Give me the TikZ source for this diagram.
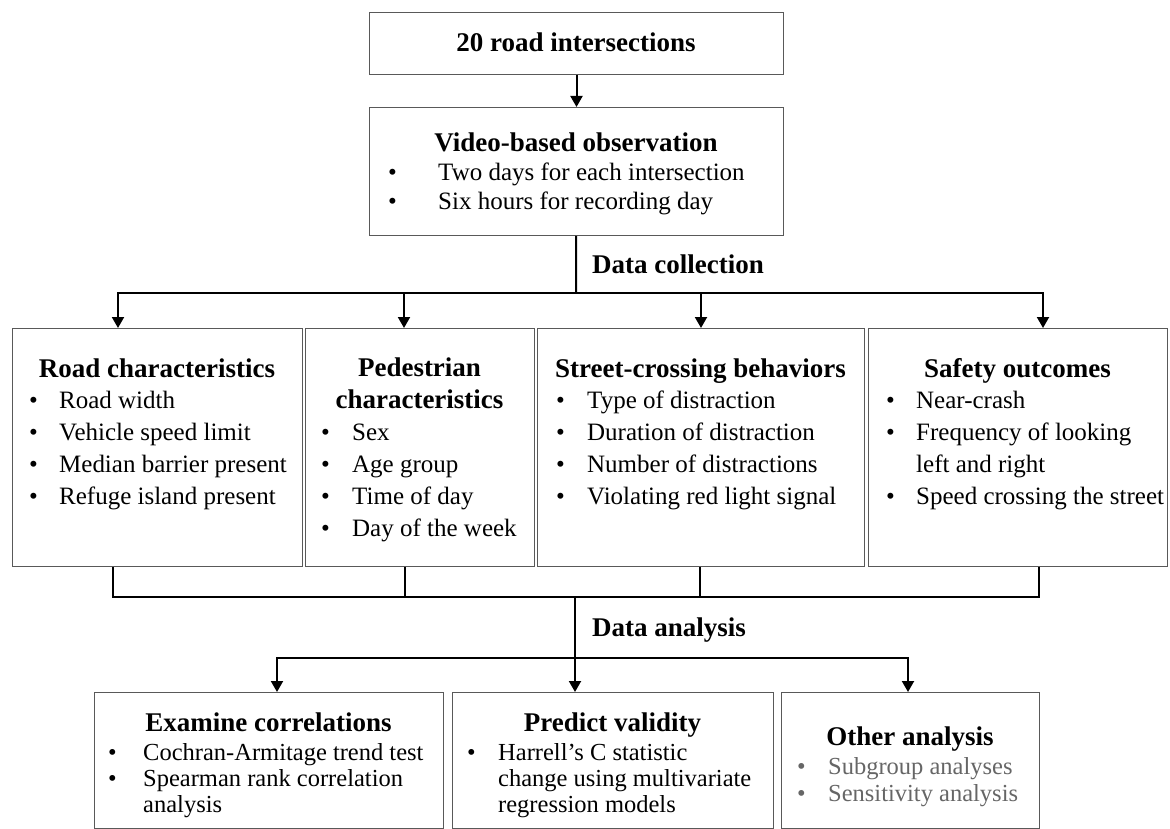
\documentclass[tikz,border=0pt]{standalone}
\usepackage{fontspec}
\setmainfont{Liberation Serif}
\usetikzlibrary{arrows.meta}
\newcommand{\itemlist}[2]{\begin{tabular}[t]{@{}p{#1}@{}l@{}}#2\end{tabular}}
\tikzset{
    box/.style={draw=black!65, line width=1pt, inner sep=0pt, anchor=north west},
    ttl/.style={font=\fontsize{27}{32}\selectfont\bfseries, inner sep=0pt, anchor=base},
    lst/.style={font=\fontsize{25}{32}\selectfont, inner sep=0pt, anchor=base west},
    sml/.style={font=\fontsize{24.5}{26}\selectfont, inner sep=0pt, anchor=base west},
    link/.style={line width=2pt},
    arr/.style={link, -{Triangle[length=11pt,width=12pt]}},
}
\begin{document}
\begin{tikzpicture}[x=1pt, y=-1pt]
    \useasboundingbox (0,0) rectangle (1170,829);

    \node[box, minimum width=414pt, minimum height=62pt] (top) at (369,12) {};
    \node[box, minimum width=414pt, minimum height=128pt] (video) at (369,107) {};
    \node[box, minimum width=290pt, minimum height=238pt] (road) at (12,328) {};
    \node[box, minimum width=229pt, minimum height=238pt] (ped) at (305,328) {};
    \node[box, minimum width=327pt, minimum height=238pt] (street) at (537,328) {};
    \node[box, minimum width=299pt, minimum height=238pt] (safety) at (868,328) {};
    \node[box, minimum width=349pt, minimum height=136pt] (corr) at (94,692) {};
    \node[box, minimum width=321pt, minimum height=136pt] (pred) at (452,692) {};
    \node[box, minimum width=258pt, minimum height=136pt] (other) at (781,692) {};

    \node[ttl] (toptxt) at (576,52) {20 road intersections};
    \node[ttl] (videottl) at (576,152) {Video-based observation};
    \node[lst, font=\fontsize{25}{29}\selectfont] (videolst) at (388,181)
        {\itemlist{50pt}{\textbullet & Two days for each intersection\\
                         \textbullet & Six hours for recording day}};

    \node[ttl] (roadttl) at (157,377) {Road characteristics};
    \node[lst] (roadlst) at (29,408)
        {\itemlist{30pt}{\textbullet & Road width\\
                         \textbullet & Vehicle speed limit\\
                         \textbullet & Median barrier present\\
                         \textbullet & Refuge island present}};

    \node[ttl, anchor=center, align=center] (pedttl) at (419.5,383) {Pedestrian\\characteristics};
    \node[lst] (pedlst) at (321,440)
        {\itemlist{31pt}{\textbullet & Sex\\
                         \textbullet & Age group\\
                         \textbullet & Time of day\\
                         \textbullet & Day of the week}};

    \node[ttl] (streetttl) at (700.5,377) {Street-crossing behaviors};
    \node[lst] (streetlst) at (556,408)
        {\itemlist{31pt}{\textbullet & Type of distraction\\
                         \textbullet & Duration of distraction\\
                         \textbullet & Number of distractions\\
                         \textbullet & Violating red light signal}};

    \node[ttl] (safetyttl) at (1017.5,377) {Safety outcomes};
    \node[lst] (safetylst) at (886,408)
        {\itemlist{30pt}{\textbullet & Near-crash\\
                         \textbullet & Frequency of looking\\
                                     & left and right\\
                         \textbullet & Speed crossing the street}};

    \node[ttl] (corrttl) at (268.5,731) {Examine correlations};
    \node[sml] (corrlst) at (108,760)
        {\itemlist{35pt}{\textbullet & Cochran-Armitage trend test\\
                         \textbullet & Spearman rank correlation\\
                                     & analysis}};

    \node[ttl] (predttl) at (612.5,731) {Predict validity};
    \node[sml] (predlst) at (467,760)
        {\itemlist{31pt}{\textbullet & Harrell's C statistic\\
                                     & change using multivariate\\
                                     & regression models}};

    \node[ttl] (otherttl) at (910,745) {Other analysis};
    \node[sml, font=\fontsize{24.5}{27}\selectfont, text=black!60] (otherlst) at (797,774)
        {\itemlist{31pt}{\textbullet & Subgroup analyses\\
                         \textbullet & Sensitivity analysis}};

    \node[inner sep=0pt, anchor=base west, font=\fontsize{27}{32}\selectfont\bfseries] (collect) at (592,273) {Data collection};
    \node[inner sep=0pt, anchor=base west, font=\fontsize{27}{32}\selectfont\bfseries] (analyse) at (592,636) {Data analysis};

    \coordinate (split) at (576,293);
    \coordinate (a1) at (118,293);
    \coordinate (a2) at (404,293);
    \coordinate (a3) at (701,293);
    \coordinate (a4) at (1043,293);
    \coordinate (b1) at (113,597);
    \coordinate (b2) at (405,597);
    \coordinate (b3) at (700,597);
    \coordinate (b4) at (1039,597);
    \coordinate (join) at (575,597);
    \coordinate (c1) at (277,658);
    \coordinate (c3) at (908,658);

    \draw[arr] (top) -- (video);
    \draw[link] (video) -- (split);
    \draw[arr] (a4) -- (a1) -- (a1 |- road.north);
    \draw[arr] (a1) -- (a4) -- (a4 |- safety.north);
    \draw[arr] (a2) -- (a2 |- ped.north);
    \draw[arr] (a3) -- (a3 |- street.north);

    \draw[link] (b1 |- road.south) -- (b1) -- (b4) -- (b4 |- safety.south);
    \draw[link] (b2 |- ped.south) -- (b2);
    \draw[link] (b3 |- street.south) -- (b3);
    \draw[arr] (join) -- (join |- pred.north);
    \draw[arr] (c3) -- (c1) -- (c1 |- corr.north);
    \draw[arr] (c1) -- (c3) -- (c3 |- other.north);
\end{tikzpicture}
\end{document}
